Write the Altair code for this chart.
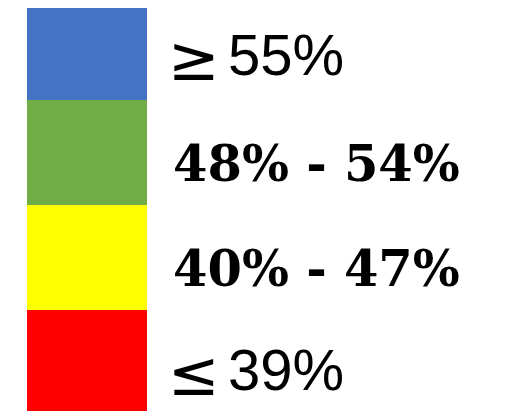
import altair as alt
import pandas as pd

# Legend rows, top to bottom
symbols = ["≥", "", "", "≤"]
values = ["55%", "48% - 54%", "40% - 47%", "39%"]
colors = ["#4472C4", "#70AD47", "#FFFF00", "#FF0000"]
band_lo = [3, 2, 1, 0]
band_hi = [4, 3, 2, 1]
label_style = ["sans", "serif", "serif", "sans"]

df = pd.DataFrame({
    "symbol": symbols,
    "value": values,
    "color": colors,
    "lo": band_lo,
    "hi": band_hi,
    "style": label_style,
})
df["mid"] = (df["lo"] + df["hi"]) / 2

yscale = alt.Scale(domain=[0.038, 3.876], clamp=True, nice=False, zero=False)

base = alt.Chart(df)

rects = base.mark_rect().encode(
    x=alt.value(19),
    x2=alt.value(139),
    y=alt.Y("lo:Q", scale=yscale, axis=None),
    y2="hi:Q",
    color=alt.Color("color:N", scale=None, legend=None),
)

symbol_text = base.transform_filter(alt.datum.symbol != "").mark_text(
    align="left", baseline="alphabetic", dy=33, font="DejaVu Sans", fontSize=62, color="black"
).encode(
    x=alt.value(160),
    y=alt.Y("mid:Q", scale=yscale, axis=None),
    text="symbol:N",
)

sans_text = base.transform_filter(alt.datum.style == "sans").mark_text(
    align="left", baseline="alphabetic", dy=28, font="Liberation Sans", fontSize=58, color="black"
).encode(
    x=alt.value(220),
    y=alt.Y("mid:Q", scale=yscale, axis=None),
    text="value:N",
)

serif_text = base.transform_filter(alt.datum.style == "serif").mark_text(
    align="left", baseline="alphabetic", dy=29, font="DejaVu Serif", fontWeight="bold", fontSize=49.5, color="black"
).encode(
    x=alt.value(165),
    y=alt.Y("mid:Q", scale=yscale, axis=None),
    text="value:N",
)

chart = alt.layer(rects, symbol_text, sans_text, serif_text).properties(
    width=497, height=403, padding=0, autosize="none", background="white"
).configure_view(stroke=None)

chart.save("out.html", embed_options={"renderer": "svg", "actions": False})
